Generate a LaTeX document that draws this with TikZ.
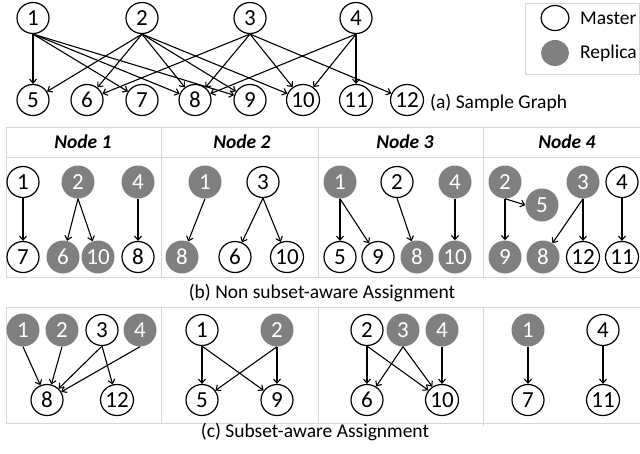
\documentclass[tikz,border=0pt]{standalone}
\usepackage{fontspec}
\setmainfont{Carlito}
\usetikzlibrary{arrows.meta,shapes.geometric}
\definecolor{replgray}{HTML}{808080}
\definecolor{rulegray}{HTML}{D6D6D6}

\begin{document}
\begin{tikzpicture}[
  x=1pt,y=-1pt,
  font=\fontsize{19.5}{23}\selectfont,
  >={Straight Barb[length=4pt,width=7pt]},
  line/.style={->,line width=1.1pt,draw=black},
  master/.style={ellipse,draw=black,line width=1.2pt,fill=white,
                 font=\fontsize{23}{26}\selectfont,
                 minimum width=32pt,minimum height=31pt,inner sep=0pt},
  replica/.style={ellipse,fill=replgray,text=white,
                  font=\fontsize{23}{26}\selectfont,
                  minimum width=33pt,minimum height=33pt,inner sep=0pt},
  rule/.style={draw=rulegray,line width=1pt},
  head/.style={font=\fontsize{19.5}{23}\selectfont\bfseries\itshape},
  caption/.style={inner sep=0pt}
]
\useasboundingbox (0,0) rectangle (640,453);

% (a) sample graph
\node[master] (a1) at (33,18) {1};
\node[master] (a2) at (142,18) {2};
\node[master] (a3) at (250,18) {3};
\node[master] (a4) at (356,18) {4};
\node[master] (a5) at (33,100) {5};
\node[master] (a6) at (87,100) {6};
\node[master] (a7) at (142,100) {7};
\node[master] (a8) at (195,100) {8};
\node[master] (a9) at (250,100) {9};
\node[master] (a10) at (303,100) {10};
\node[master] (a11) at (356,100) {11};
\node[master] (a12) at (407,100) {12};
\node[caption,anchor=west] (capa) at (430,103) {(a) Sample Graph};

\draw[line] (a1.south) -- (a5);
\draw[line] (a1.south) -- (a7);
\draw[line] (a1.south) -- (a8);
\draw[line] (a1.south) -- (a9);
\draw[line] (a2.south) -- (a5);
\draw[line] (a2.south) -- (a6);
\draw[line] (a2.south) -- (a8);
\draw[line] (a2.south) -- (a9);
\draw[line] (a2.south) -- (a10);
\draw[line] (a3.south) -- (a6);
\draw[line] (a3.south) -- (a8);
\draw[line] (a3.south) -- (a10);
\draw[line] (a3.south) -- (a12);
\draw[line] (a4.south) -- (a8);
\draw[line] (a4.south) -- (a10);
\draw[line] (a4.south) -- (a11);

% legend
\draw[rule] (525,3) rectangle (639.5,74);
\node[master,minimum width=28pt,minimum height=25pt] (legm) at (555,18) {};
\node[replica,minimum width=28pt,minimum height=26pt] (legr) at (555,53) {};
\node[caption,anchor=west] (legmtxt) at (580,18) {Master};
\node[caption,anchor=west] (legrtxt) at (580,53) {Replica};

% (b) non subset-aware assignment
\draw[rule] (6,127) -- (640,127);
\draw[rule] (6,157) -- (640,157);
\draw[rule] (6,277) -- (640,277);
\draw[rule] (6,127) -- (6,277);
\draw[rule] (161,127) -- (161,277);
\draw[rule] (318,127) -- (318,277);
\draw[rule] (483,127) -- (483,277);
\node[head] (hd1) at (83,142) {Node 1};
\node[head] (hd2) at (242,142) {Node 2};
\node[head] (hd3) at (405,142) {Node 3};
\node[head] (hd4) at (567,142) {Node 4};

\node[master] (b1v1) at (23,182) {1};
\node[replica] (b1v2) at (78,182) {2};
\node[replica] (b1v4) at (138,182) {4};
\node[master] (b1v7) at (23,257) {7};
\node[replica] (b1v6) at (63,257) {6};
\node[replica] (b1v10) at (98,257) {10};
\node[master] (b1v8) at (138,257) {8};

\node[replica] (b2v1) at (205,182) {1};
\node[master] (b2v3) at (263,182) {3};
\node[replica] (b2v8) at (182,257) {8};
\node[master] (b2v6) at (235,257) {6};
\node[master] (b2v10) at (287,257) {10};

\node[replica] (b3v1) at (340,182) {1};
\node[master] (b3v2) at (397,182) {2};
\node[replica] (b3v4) at (455,182) {4};
\node[master] (b3v5) at (340,257) {5};
\node[master] (b3v9) at (378,257) {9};
\node[replica] (b3v8) at (417,257) {8};
\node[replica] (b3v10) at (455,257) {10};

\node[replica] (b4v2) at (505,182) {2};
\node[replica] (b4v5) at (542,205) {5};
\node[replica] (b4v3) at (583,182) {3};
\node[master] (b4v4) at (622,182) {4};
\node[replica] (b4v9) at (505,257) {9};
\node[replica] (b4v8) at (543,257) {8};
\node[master] (b4v12) at (583,257) {12};
\node[master] (b4v11) at (622,257) {11};

\draw[line] (b1v1.south) -- (b1v7);
\draw[line] (b1v2.south) -- (b1v6);
\draw[line] (b1v2.south) -- (b1v10);
\draw[line] (b1v4.south) -- (b1v8);
\draw[line] (b2v1.south) -- (b2v8);
\draw[line] (b2v3.south) -- (b2v6);
\draw[line] (b2v3.south) -- (b2v10);
\draw[line] (b3v1.south) -- (b3v5);
\draw[line] (b3v1.south) -- (b3v9);
\draw[line] (b3v2.south) -- (b3v8);
\draw[line] (b3v4.south) -- (b3v10);
\draw[line] (b4v2.south) -- (b4v5.west);
\draw[line] (b4v2.south) -- (b4v9);
\draw[line] (b4v3.south) -- (b4v8);
\draw[line] (b4v3.south) -- (b4v12);
\draw[line] (b4v4.south) -- (b4v11);
\node[caption] (capb) at (322,293) {(b) Non subset-aware Assignment};

% (c) subset-aware assignment
\draw[rule] (6,307) -- (640,307);
\draw[rule] (6,423) -- (640,423);
\draw[rule] (6,307) -- (6,423);
\draw[rule] (161,307) -- (161,423);
\draw[rule] (318,307) -- (318,423);
\draw[rule] (483,307) -- (483,426);

\node[replica] (c1v1) at (23,330) {1};
\node[replica] (c1v2) at (62,330) {2};
\node[master] (c1v3) at (102,330) {3};
\node[replica] (c1v4) at (140,330) {4};
\node[master] (c1v8) at (47,400) {8};
\node[master] (c1v12) at (117,400) {12};

\node[master] (c2v1) at (202,330) {1};
\node[replica] (c2v2) at (277,330) {2};
\node[master] (c2v5) at (202,400) {5};
\node[master] (c2v9) at (277,400) {9};

\node[master] (c3v2) at (367,330) {2};
\node[replica] (c3v3) at (403,330) {3};
\node[replica] (c3v4) at (442,330) {4};
\node[master] (c3v6) at (367,400) {6};
\node[master] (c3v10) at (442,400) {10};

\node[replica] (c4v1) at (528,330) {1};
\node[master] (c4v4) at (603,330) {4};
\node[master] (c4v7) at (528,400) {7};
\node[master] (c4v11) at (603,400) {11};

\draw[line] (c1v1.south) -- (c1v8);
\draw[line] (c1v2.south) -- (c1v8);
\draw[line] (c1v3.south) -- (c1v8);
\draw[line] (c1v4.south) -- (c1v8);
\draw[line] (c1v3.south) -- (c1v12);
\draw[line] (c2v1.south) -- (c2v5);
\draw[line] (c2v1.south) -- (c2v9);
\draw[line] (c2v2.south) -- (c2v5);
\draw[line] (c2v2.south) -- (c2v9);
\draw[line] (c3v2.south) -- (c3v6);
\draw[line] (c3v2.south) -- (c3v10);
\draw[line] (c3v3.south) -- (c3v6);
\draw[line] (c3v3.south) -- (c3v10);
\draw[line] (c3v4.south) -- (c3v10);
\draw[line] (c4v1.south) -- (c4v7);
\draw[line] (c4v4.south) -- (c4v11);
\node[caption] (capc) at (315,432) {(c) Subset-aware Assignment};
\end{tikzpicture}
\end{document}
